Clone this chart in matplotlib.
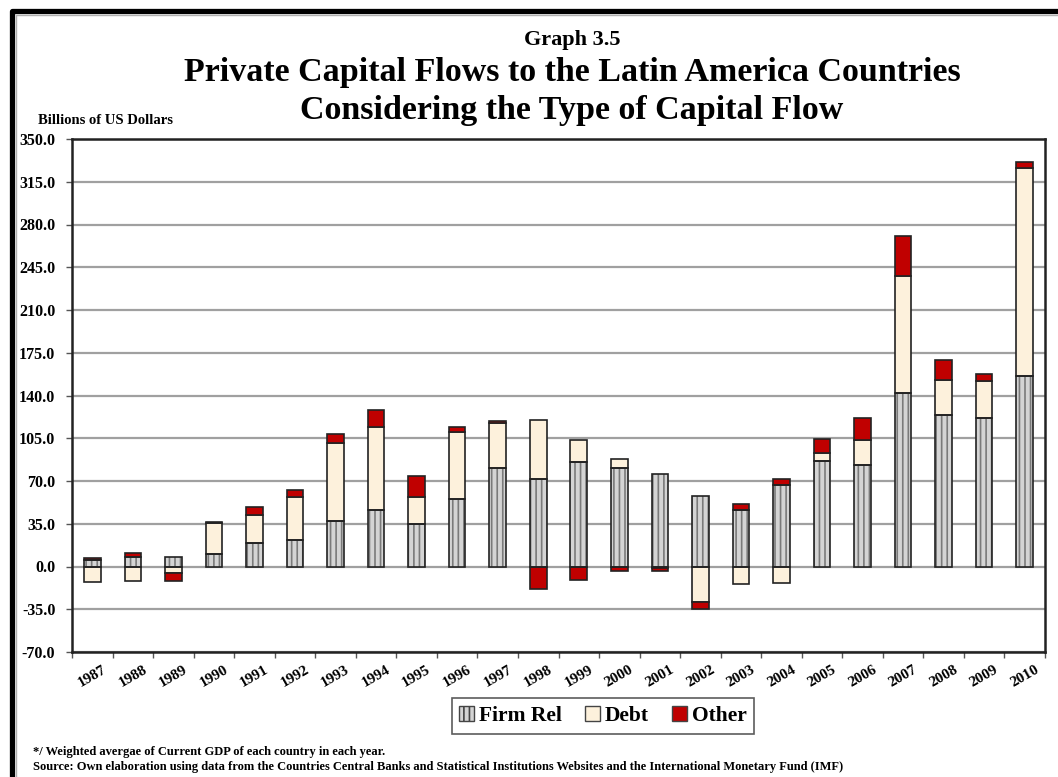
import numpy as np
import matplotlib
matplotlib.use("Agg")
import matplotlib.pyplot as plt
from matplotlib.patches import Patch
from matplotlib.lines import Line2D

plt.rcParams["font.family"] = ["Liberation Serif", "DejaVu Serif"]
plt.rcParams["font.weight"] = "bold"
plt.rcParams["hatch.linewidth"] = 1.2

# 数据：拉美私人资本流入（十亿美元）
years = [str(y) for y in range(1987, 2011)]
firm_rel = [5.0, 7.8, 8.0, 10.3, 19.5, 22.0, 37.5, 46.4, 34.7, 55.6, 80.6, 71.7,
            85.3, 80.3, 75.6, 57.5, 46.4, 66.7, 86.7, 83.0, 141.7, 124.2, 121.4, 156.0]
debt = [-13.0, -12.0, -5.0, 25.7, 23.0, 34.7, 64.0, 67.5, 22.0, 54.7, 37.0, 48.3,
        18.0, 7.7, -1.2, -29.4, -14.7, -13.3, 6.3, 20.3, 95.8, 28.6, 30.5, 170.0]
other = [2.0, 3.2, -7.0, 0.8, 6.0, 5.8, 7.0, 14.0, 17.0, 3.6, 1.4, -18.6,
         -11.4, -3.9, -2.8, -5.0, 5.0, 4.7, 11.2, 18.1, 33.0, 16.4, 6.1, 5.0]

series_names = ["Firm Rel", "Debt", "Other"]
FIRM_FACE = "#d4d4d4"
FIRM_HATCH = "#7a7a7a"
DEBT_COLOR = "#fdf1dc"
OTHER_COLOR = "#c00000"

W, H = 1058, 777
fig = plt.figure(figsize=(W / 100, H / 100), dpi=100)
ax = fig.add_axes([72 / W, 1 - 652 / H, (1045 - 72) / W, (652 - 139) / H])

x = np.arange(len(years))
bw = 0.41
pos_base = np.zeros(len(years))
neg_base = np.zeros(len(years))


def stack(vals, face, hatch=None):
    vals = np.array(vals, dtype=float)
    bottoms = np.where(vals >= 0, pos_base, neg_base)
    if hatch:
        ax.bar(x, vals, bw, bottom=bottoms, color=face, edgecolor=FIRM_HATCH,
               hatch=hatch, linewidth=0, zorder=3)
        ax.bar(x, vals, bw, bottom=bottoms, color="none", edgecolor="#222222",
               linewidth=1.2, zorder=4)
    else:
        ax.bar(x, vals, bw, bottom=bottoms, color=face, edgecolor="#222222",
               linewidth=1.2, zorder=3)
    pos_base[:] = np.where(vals >= 0, pos_base + vals, pos_base)
    neg_base[:] = np.where(vals < 0, neg_base + vals, neg_base)


stack(firm_rel, FIRM_FACE, hatch="|||")
stack(debt, DEBT_COLOR)
stack(other, OTHER_COLOR)

# 坐标轴
ax.set_xlim(-0.5, len(years) - 0.5)
ax.set_ylim(-70, 350)
yt = np.arange(-70, 351, 35)
ax.set_yticks(yt)
ax.set_yticklabels([f"{v:.1f}" for v in yt], fontsize=11.5, fontweight="bold")
ax.yaxis.grid(True, color="#a0a0a0", linewidth=1.6, zorder=0)
ax.set_axisbelow(True)

ax.set_xticks(np.arange(-0.5, len(years), 1.0))
ax.set_xticklabels([])
ax.set_xticks(x, minor=True)
ax.set_xticklabels(years, minor=True, rotation=30, fontsize=11,
                   fontweight="bold", ha="center", va="top")
ax.tick_params(axis="x", which="minor", length=0, pad=8)
ax.tick_params(axis="x", which="major", length=4, width=1, color="#555555")
ax.tick_params(axis="y", length=4, width=1, color="#555555", pad=8)
for s in ax.spines.values():
    s.set_linewidth(1.8)
    s.set_color("#222222")

# 标题
fig.text(572 / W, 1 - 40 / H, "Graph 3.5", ha="center", va="center",
         fontsize=16, fontweight="bold")
fig.text(572 / W, 1 - 73 / H, "Private Capital Flows to the Latin America Countries",
         ha="center", va="center", fontsize=24.5, fontweight="bold")
fig.text(572 / W, 1 - 111 / H, "Considering the Type of Capital Flow",
         ha="center", va="center", fontsize=24.5, fontweight="bold")
fig.text(38 / W, 1 - 120 / H, "Billions of US Dollars", ha="left", va="center",
         fontsize=10.5, fontweight="bold")

# 图例
handles = [Patch(facecolor=FIRM_FACE, edgecolor="#444444", hatch="|||"),
           Patch(facecolor=DEBT_COLOR, edgecolor="#444444"),
           Patch(facecolor=OTHER_COLOR, edgecolor="#444444")]
leg = fig.legend(handles, series_names, loc="center", bbox_to_anchor=(603 / W, 1 - 716 / H),
                 ncol=3, frameon=True, fancybox=False, handlelength=0.7,
                 handleheight=0.7, handletextpad=0.2, columnspacing=1.1,
                 borderpad=0.35, prop={"weight": "bold", "size": 15.5})
leg.get_frame().set_edgecolor("#333333")
leg.get_frame().set_linewidth(1.2)

# 注释
fig.text(33 / W, 1 - 752 / H, "*/ Weighted avergae of Current GDP of each country in each year.",
         ha="left", va="center", fontsize=9, fontweight="bold")
fig.text(33 / W, 1 - 767 / H,
         "Source: Own elaboration using data from the Countries Central Banks and Statistical "
         "Institutions Websites and the International Monetary Fund (IMF)",
         ha="left", va="center", fontsize=9, fontweight="bold")

# 外框
fig.add_artist(Line2D([11.5 / W, 11.5 / W, 1.0], [0.0, 1 - 10.5 / H, 1 - 10.5 / H],
                      transform=fig.transFigure, color="black", linewidth=3.8))
fig.add_artist(Line2D([15.5 / W, 15.5 / W, 1.0], [0.0, 1 - 14.5 / H, 1 - 14.5 / H],
                      transform=fig.transFigure, color="#b0b0b0", linewidth=1.0))

fig.savefig("out.png", dpi=100)
